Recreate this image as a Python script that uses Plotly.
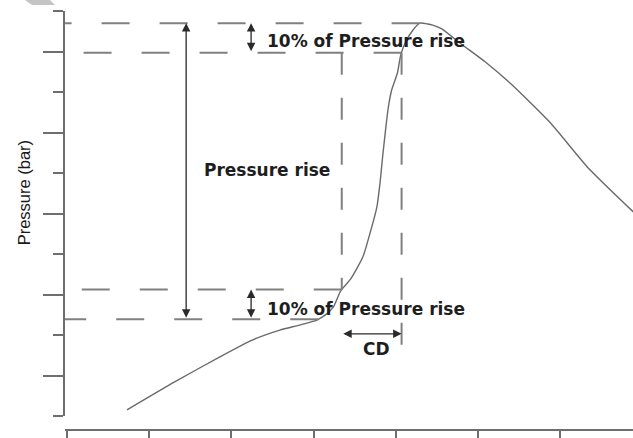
import numpy as np
import plotly.graph_objects as go

# Cylinder pressure trace against crank angle (degrees from axis origin)
crank_angle = [7.3, 13.1, 18.6, 22.6, 25.9, 28.4, 30.4, 31.4, 32.4, 33.3, 34.5,
               36.0, 36.9, 37.7, 38.1, 38.4, 38.8, 39.1, 39.5, 40.2, 40.6, 41.2,
               42.1, 42.9, 43.9, 44.5, 45.6, 47.8, 50.9, 53.9, 58.8, 63.3, 68.9]
pressure = [1.5, 8.4, 14.6, 18.8, 21.2, 22.5, 23.7, 24.9, 26.9, 30.9, 33.8,
            39.3, 45.4, 51.6, 57.8, 64.0, 71.4, 76.3, 80.5, 84.7, 89.1, 92.4,
            95.3, 97.0, 96.8, 96.5, 95.6, 92.1, 87.4, 82.2, 72.4, 61.5, 50.4]

# Pressure where combustion starts lifting the curve off the compression line
p_base = 23.9

# Annotation placement (data units)
rise_arrow_x = 14.5
pct_arrow_x = 22.4
cd_arrow_y = 20.3
cd_tick_bottom = 17.0
label_rise = (16.4, 60.7)
label_pct_top = (24.1, 92.6)
label_pct_bottom = (24.1, 26.4)
label_cd = (37.6, 16.5)
ylabel_pos = (-0.072, 55.0)

x_ticks = [0, 10, 20, 30, 40, 50, 60]

# Derived quantities: peak, rise and the 10 % / 90 % levels
x = np.array(crank_angle)
p = np.array(pressure)
i_peak = int(np.argmax(p))
p_peak = p[i_peak]
x_peak = x[i_peak]
rise = p_peak - p_base
p_lo10 = p_base + 0.1 * rise
p_hi10 = p_peak - 0.1 * rise

x_rise, p_rise = x[:i_peak + 1], p[:i_peak + 1]
x_base = float(np.interp(p_base, p_rise, x_rise))
cd_start = float(np.interp(p_lo10, p_rise, x_rise))
cd_end = float(np.interp(p_hi10, p_rise, x_rise))

AXIS_C = "#6e6e6e"
DASH_C = "#808080"
ARROW_C = "#2a2a2a"
TEXT_C = "#1e1e1e"
H_DASH = "28px,30px"
V_DASH = "22px,23px"

fig = go.Figure()
fig.add_trace(go.Scatter(
    x=crank_angle, y=pressure, mode="lines",
    line=dict(color="#6a6a6a", width=1.4, shape="spline", smoothing=0.6),
    hoverinfo="skip", showlegend=False,
))

shapes = []
# horizontal reference levels, drawn from the curve back to the pressure axis
for level, x_right in [(p_peak, x_peak), (p_hi10, cd_end), (p_lo10, cd_start), (p_base, x_base)]:
    shapes.append(dict(type="line", xref="x", yref="y", x0=x_right, x1=-0.24,
                       y0=level, y1=level, line=dict(color=DASH_C, width=2, dash=H_DASH)))
# vertical boundaries of the combustion duration
shapes.append(dict(type="line", xref="x", yref="y", x0=cd_start, x1=cd_start,
                   y0=p_hi10, y1=p_lo10, line=dict(color=DASH_C, width=2, dash=V_DASH)))
shapes.append(dict(type="line", xref="x", yref="y", x0=cd_end, x1=cd_end,
                   y0=p_hi10, y1=cd_tick_bottom, line=dict(color=DASH_C, width=2, dash=V_DASH)))
# light grey mark in the upper-left corner
shapes.append(dict(type="path", xref="paper", yref="paper",
                   path="M -0.0704,1.0263 L -0.0264,1.0263 L -0.0176,1.0143 L -0.0581,1.0143 Z",
                   fillcolor="#c4c4c4", line=dict(width=0)))


def double_arrow(x0, y0, x1, y1):
    return dict(x=x1, y=y1, ax=x0, ay=y0, xref="x", yref="y", axref="x", ayref="y",
                text="", showarrow=True, arrowside="end+start", arrowhead=2,
                startarrowhead=2, arrowsize=1.3, startarrowsize=1.3, arrowwidth=1.3,
                arrowcolor=ARROW_C, standoff=0, startstandoff=0)


def label(txt, pos, anchor="left"):
    return dict(x=pos[0], y=pos[1], xref="x", yref="y", text=txt, showarrow=False,
                xanchor=anchor, yanchor="middle",
                font=dict(family="DejaVu Sans", size=17, color=TEXT_C, weight="bold"))


annotations = [
    double_arrow(rise_arrow_x, p_base, rise_arrow_x, p_peak),
    double_arrow(pct_arrow_x, p_hi10, pct_arrow_x, p_peak),
    double_arrow(pct_arrow_x, p_base, pct_arrow_x, p_lo10),
    double_arrow(cd_start, cd_arrow_y, cd_end, cd_arrow_y),
    label("Pressure rise", label_rise),
    label("10% of Pressure rise", label_pct_top),
    label("10% of Pressure rise", label_pct_bottom),
    label("CD", label_cd, anchor="center"),
    dict(x=ylabel_pos[0], y=ylabel_pos[1], xref="paper", yref="y", text="Pressure (bar)",
         showarrow=False, textangle=-90, xanchor="center", yanchor="middle",
         font=dict(family="Liberation Sans", size=16.5, color="#1a1a1a")),
]

fig.update_layout(
    width=633, height=438,
    margin=dict(l=65, r=0, t=11, b=8),
    paper_bgcolor="white", plot_bgcolor="white",
    shapes=shapes, annotations=annotations,
    xaxis=dict(range=[-0.24, 68.86], anchor="free", position=0,
               tickmode="array", tickvals=x_ticks, showticklabels=False,
               ticks="outside", ticklen=8, tickwidth=1.5, tickcolor=AXIS_C,
               showline=True, linecolor=AXIS_C, linewidth=1.5,
               showgrid=False, zeroline=False),
    yaxis=dict(range=[0, 100], domain=[14 / 419, 1],
               tickmode="linear", tick0=10, dtick=20, showticklabels=False,
               ticks="outside", ticklen=20, tickwidth=1.5, tickcolor=AXIS_C,
               minor=dict(tickmode="linear", tick0=0, dtick=10, ticks="outside",
                          ticklen=10, tickwidth=1.5, tickcolor=AXIS_C),
               showline=True, linecolor=AXIS_C, linewidth=1.5,
               showgrid=False, zeroline=False),
)

fig.write_html("out.html")
